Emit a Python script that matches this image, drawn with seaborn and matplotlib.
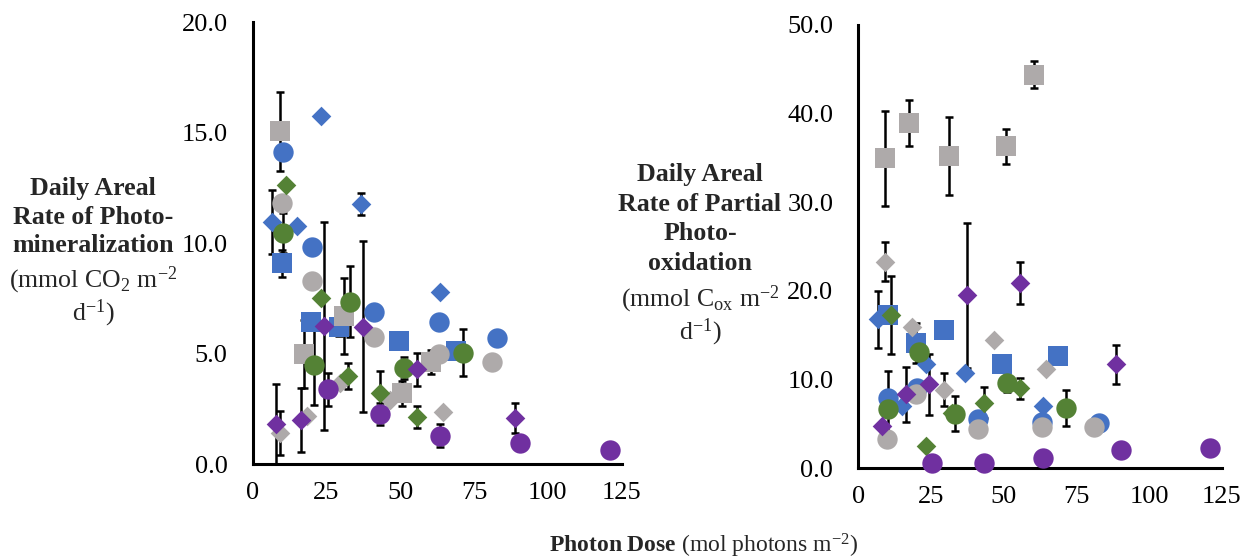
import numpy as np
import pandas as pd
import matplotlib
matplotlib.use('Agg')
import matplotlib.pyplot as plt
import seaborn as sns

sns.set_style('white')
plt.rcParams['font.family'] = ['Liberation Serif', 'DejaVu Serif']
plt.rcParams['mathtext.fontset'] = 'custom'
plt.rcParams['mathtext.rm'] = 'Liberation Serif'
plt.rcParams['mathtext.it'] = 'Liberation Serif:italic'
plt.rcParams['mathtext.bf'] = 'Liberation Serif:bold'

# --- data ---
# each series: photon dose, photomineralization (+err), partial photo-oxidation (+err)
blue_diamond_dose = [6.6, 15.0, 23.1, 36.6, 63.6]
blue_diamond_min = [10.95, 10.75, 15.75, 11.76, 7.8]
blue_diamond_min_err = [1.45, 0, 0, 0.5, 0]
blue_diamond_ox = [16.8, 7.0, 11.8, 10.76, 7.0]
blue_diamond_ox_err = [3.2, 0, 0, 0, 0]

blue_circle_dose = [10.2, 20.1, 41.0, 63.1, 82.8]
blue_circle_min = [14.1, 9.83, 6.9, 6.44, 5.69]
blue_circle_min_err = [0, 0, 0, 0, 0]
blue_circle_ox = [7.87, 9.0, 5.6, 5.23, 5.16]
blue_circle_ox_err = [0, 0, 0, 0, 0]

blue_square_dose = [10.1, 19.8, 29.3, 49.5, 68.8]
blue_square_min = [9.08, 6.41, 6.18, 5.56, 5.11]
blue_square_min_err = [0.6, 0, 0.4, 0, 0]
blue_square_ox = [17.3, 14.15, 15.65, 11.8, 12.64]
blue_square_ox_err = [0, 2.25, 0, 0, 0]

grey_diamond_dose = [9.2, 18.3, 29.6, 46.6, 64.6]
grey_diamond_min = [1.42, 2.17, 3.65, 2.9, 2.37]
grey_diamond_min_err = [1.0, 0, 0, 0, 0]
grey_diamond_ox = [23.3, 15.9, 8.88, 14.45, 11.17]
grey_diamond_ox_err = [2.2, 0, 1.9, 0, 0]

grey_circle_dose = [10.0, 20.0, 41.0, 63.1, 81.0]
grey_circle_min = [11.8, 8.28, 5.76, 4.98, 4.63]
grey_circle_min_err = [0, 0, 0, 0, 0]
grey_circle_ox = [3.35, 8.35, 4.48, 4.66, 4.66]
grey_circle_ox_err = [0, 0, 0, 0, 0]

grey_square_dose = [9.3, 17.3, 31.1, 50.7, 60.4]
grey_square_min = [15.05, 4.98, 6.7, 3.2, 4.63]
grey_square_min_err = [1.8, 1.55, 1.7, 0.56, 0.55]
grey_square_ox = [34.95, 38.9, 35.2, 36.3, 44.4]
grey_square_ox_err = [5.35, 2.6, 4.4, 2.0, 1.5]

green_diamond_dose = [11.3, 23.1, 32.3, 43.3, 55.6]
green_diamond_min = [12.64, 7.53, 3.98, 3.23, 2.14]
green_diamond_min_err = [0, 0, 0.58, 1.0, 0.5]
green_diamond_ox = [17.3, 2.52, 6.2, 7.37, 9.0]
green_diamond_ox_err = [4.4, 0, 0, 1.75, 1.15]

green_circle_dose = [10.3, 20.8, 33.1, 51.2, 71.4]
green_circle_min = [10.45, 4.48, 7.35, 4.36, 5.04]
green_circle_min_err = [0.9, 1.8, 1.6, 0.5, 1.05]
green_circle_ox = [6.74, 13.06, 6.17, 9.67, 6.8]
green_circle_ox_err = [4.25, 0, 2.0, 1.1, 2.07]

purple_diamond_dose = [8.0, 16.3, 24.2, 37.4, 55.7, 88.8]
purple_diamond_min = [1.81, 1.99, 6.25, 6.22, 4.28, 2.07]
purple_diamond_min_err = [1.8, 1.43, 4.7, 3.85, 0.74, 0.68]
purple_diamond_ox = [4.78, 8.35, 9.45, 19.5, 20.9, 11.74]
purple_diamond_ox_err = [0, 3.1, 3.4, 8.2, 2.35, 2.2]

purple_circle_dose = [25.5, 43.1, 63.5, 90.5, 120.9]
purple_circle_min = [3.39, 2.26, 1.28, 0.94, 0.63]
purple_circle_min_err = [0.75, 0.5, 0.53, 0, 0]
purple_circle_ox = [0.64, 0.64, 1.2, 2.03, 2.29]
purple_circle_ox_err = [0, 0, 0, 0, 0]

blue = '#4472C4'
grey = '#AEAAAA'
green = '#548235'
purple = '#7030A0'

series = [
    (blue, 'D', blue_diamond_dose, blue_diamond_min, blue_diamond_min_err, blue_diamond_ox, blue_diamond_ox_err),
    (blue, 'o', blue_circle_dose, blue_circle_min, blue_circle_min_err, blue_circle_ox, blue_circle_ox_err),
    (blue, 's', blue_square_dose, blue_square_min, blue_square_min_err, blue_square_ox, blue_square_ox_err),
    (grey, 'D', grey_diamond_dose, grey_diamond_min, grey_diamond_min_err, grey_diamond_ox, grey_diamond_ox_err),
    (grey, 'o', grey_circle_dose, grey_circle_min, grey_circle_min_err, grey_circle_ox, grey_circle_ox_err),
    (grey, 's', grey_square_dose, grey_square_min, grey_square_min_err, grey_square_ox, grey_square_ox_err),
    (green, 'D', green_diamond_dose, green_diamond_min, green_diamond_min_err, green_diamond_ox, green_diamond_ox_err),
    (green, 'o', green_circle_dose, green_circle_min, green_circle_min_err, green_circle_ox, green_circle_ox_err),
    (purple, 'D', purple_diamond_dose, purple_diamond_min, purple_diamond_min_err, purple_diamond_ox, purple_diamond_ox_err),
    (purple, 'o', purple_circle_dose, purple_circle_min, purple_circle_min_err, purple_circle_ox, purple_circle_ox_err),
]
marker_size = {'D': 100, 'o': 215, 's': 200}

fig = plt.figure(figsize=(12.44, 5.6), dpi=100)
ax1 = fig.add_axes([0.2031, 0.1714, 0.2966, 0.7893])
ax2 = fig.add_axes([0.6900, 0.1638, 0.2921, 0.7916])

TICK_FS = 19
LAB_FS = 18.6


def draw_panel(ax, col, ylim, yticks):
    for color, mk, dose, m, merr, o, oerr in series:
        vals = m if col == 'min' else o
        errs = merr if col == 'min' else oerr
        df = pd.DataFrame({'dose': dose, 'val': vals, 'err': errs})
        e = df[df['err'] > 0]
        ax.errorbar(e['dose'], e['val'], yerr=e['err'], fmt='none', ecolor='black',
                    elinewidth=1.8, capsize=3, capthick=1.8, zorder=2, clip_on=False)
        sns.scatterplot(data=df, x='dose', y='val', ax=ax, color=color, marker=mk,
                        s=marker_size[mk], linewidth=0, zorder=3, clip_on=False)
    ax.set_xlim(0, 125)
    ax.set_ylim(*ylim)
    ax.set_xticks([0, 25, 50, 75, 100, 125])
    ax.set_yticks(yticks)
    ax.set_yticklabels([f'{t:.1f}' for t in yticks])
    ax.set_xlabel('')
    ax.set_ylabel('')
    sns.despine(ax=ax)
    for s in ['left', 'bottom']:
        ax.spines[s].set_linewidth(2.2)
        ax.spines[s].set_color('black')
    ax.tick_params(axis='both', direction='out', length=5, width=2.2, color='black',
                   labelsize=TICK_FS, labelcolor='black')
    ax.tick_params(axis='y', pad=13)
    ax.tick_params(axis='x', pad=8)


draw_panel(ax1, 'min', (0, 20), [0, 5, 10, 15, 20])
draw_panel(ax2, 'ox', (0, 50), [0, 10, 20, 30, 40, 50])

# y labels (bold title + normal units)
fig.text(93 / 1244, 1 - 217 / 560, 'Daily Areal\nRate of Photo-\nmineralization',
         ha='center', va='center', fontsize=LAB_FS, fontweight='bold', linespacing=1.3)
fig.text(93 / 1244, 1 - 297 / 560, '(mmol CO$_2$ m$^{-2}$\nd$^{-1}$)',
         ha='center', va='center', fontsize=LAB_FS, linespacing=1.1)

fig.text(700 / 1244, 1 - 219 / 560, 'Daily Areal\nRate of Partial\nPhoto-\noxidation',
         ha='center', va='center', fontsize=LAB_FS, fontweight='bold', linespacing=1.36)
fig.text(700 / 1244, 1 - 316 / 560, '(mmol C$_{\\mathrm{ox}}$ m$^{-2}$\nd$^{-1}$)',
         ha='center', va='center', fontsize=LAB_FS, linespacing=1.1)

# x label
fig.text(704 / 1244, 1 - 546 / 560, r'$\mathbf{Photon\ Dose}$ (mol photons m$^{-2}$)',
         ha='center', va='center', fontsize=17)

fig.savefig('out.png', dpi=100)
